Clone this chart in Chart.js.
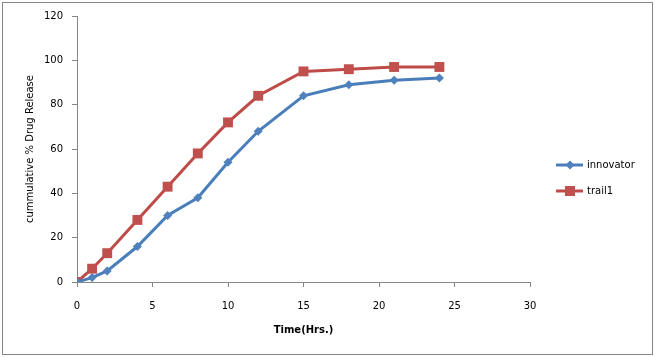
<!DOCTYPE html>
<html>
<head>
<meta charset="utf-8">
<script src="https://cdn.jsdelivr.net/npm/chart.js@4"></script>
<style>
html,body{margin:0;padding:0;background:#fff;}
#wrap{width:655px;height:357px;position:relative;}
</style>
</head>
<body>
<div id="wrap"><canvas id="c" width="655" height="357"></canvas></div>
<script>
const timeHrs = [0, 1, 2, 4, 6, 8, 10, 12, 15, 18, 21, 24];
const innovator = [0, 2, 5, 16, 30, 38, 54, 68, 84, 89, 91, 92];
const trail1 = [0, 6, 13, 28, 43, 58, 72, 84, 95, 96, 97, 97];
const seriesNames = ['innovator', 'trail1'];
const xTitle = 'Time(Hrs.)';
const yTitle = 'cummulative % Drug Release';

const toPts = arr => timeHrs.map((t, i) => ({x: t, y: arr[i]}));
const FONT = 'DejaVu Sans';
const AXIS = '#868686';

const borderPlugin = {
  id: 'frame',
  beforeDraw(chart) {
    const ctx = chart.ctx;
    ctx.save();
    ctx.fillStyle = '#fff';
    ctx.fillRect(0, 0, chart.width, chart.height);
    ctx.strokeStyle = AXIS;
    ctx.lineWidth = 1;
    ctx.strokeRect(2.5, 2.5, 650, 352);
    ctx.restore();
  },
  afterDraw(chart) {
    const ctx = chart.ctx;
    ctx.save();
    chart.data.datasets.forEach((ds, i) => {
      const y = 165 + i * 26;
      ctx.strokeStyle = ds.borderColor;
      ctx.lineWidth = 3;
      ctx.beginPath();
      ctx.moveTo(556, y);
      ctx.lineTo(583, y);
      ctx.stroke();
      ctx.fillStyle = ds.pointBackgroundColor;
      ctx.beginPath();
      if (ds.pointStyle === 'rect') {
        ctx.rect(565, y - 5, 10, 10);
      } else {
        ctx.moveTo(570, y - 4.5); ctx.lineTo(574.5, y); ctx.lineTo(570, y + 4.5); ctx.lineTo(565.5, y);
        ctx.closePath();
      }
      ctx.fill();
      ctx.fillStyle = '#000';
      ctx.font = '10px "' + FONT + '"';
      ctx.textBaseline = 'middle';
      ctx.textAlign = 'left';
      ctx.fillText(ds.label, 587, y);
    });
    ctx.restore();
  }
};

new Chart(document.getElementById('c'), {
  type: 'line',
  data: {
    datasets: [
      {
        label: seriesNames[0],
        data: toPts(innovator),
        borderColor: '#4A7EBB',
        backgroundColor: '#4F81BD',
        pointBackgroundColor: '#4F81BD',
        pointBorderColor: '#4F81BD',
        pointStyle: 'rectRot',
        pointRadius: 4.5,
        pointBorderWidth: 0,
        borderWidth: 3,
        tension: 0,
        fill: false
      },
      {
        label: seriesNames[1],
        data: toPts(trail1),
        borderColor: '#BE4B48',
        backgroundColor: '#C0504D',
        pointBackgroundColor: '#C0504D',
        pointBorderColor: '#C0504D',
        pointStyle: 'rect',
        pointRadius: 7,
        pointBorderWidth: 0,
        borderWidth: 3,
        tension: 0,
        fill: false
      }
    ]
  },
  options: {
    responsive: false,
    animation: false,
    devicePixelRatio: 1,
    layout: {padding: {left: 0, top: 16, right: 125, bottom: 0}},
    plugins: {legend: {display: false}, tooltip: {enabled: false}},
    scales: {
      x: {
        type: 'linear',
        min: 0, max: 30,
        afterFit: s => { s.height = 75; },
        ticks: {stepSize: 5, color: '#000', padding: 13, maxRotation: 0,
                font: {family: FONT, size: 10}},
        grid: {drawOnChartArea: false, drawTicks: true, tickLength: 5, color: AXIS},
        border: {color: AXIS, width: 1},
        title: {display: true, text: xTitle, color: '#000',
                font: {family: FONT, size: 10, weight: 'bold'},
                padding: {top: 0, bottom: 21}}
      },
      y: {
        min: 0, max: 120,
        afterFit: s => { s.width = 77; },
        ticks: {stepSize: 20, color: '#000', padding: 9,
                font: {family: FONT, size: 10}},
        grid: {drawOnChartArea: false, drawTicks: true, tickLength: 5, color: AXIS},
        border: {color: AXIS, width: 1},
        title: {display: true, text: yTitle, color: '#000',
                font: {family: FONT, size: 10},
                padding: {top: 24, bottom: 0}}
      }
    }
  },
  plugins: [borderPlugin]
});
</script>
</body>
</html>
